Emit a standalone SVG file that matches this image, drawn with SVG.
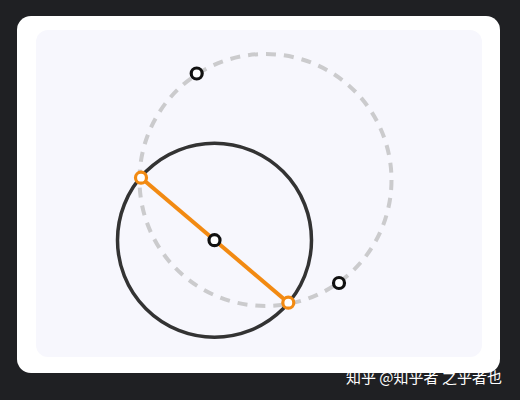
<svg xmlns="http://www.w3.org/2000/svg" width="520" height="400" viewBox="0 0 520 400">
<style>
.ring{fill:#fff;stroke-width:3.2}
.blk{stroke:#111}
.org{stroke:#f28a12}
.wm{font-family:"Noto Sans CJK SC","Liberation Sans",sans-serif;font-size:15px;fill:#fff}
</style>
<rect x="0" y="0" width="520" height="400" fill="#1f2023"/>
<rect x="17" y="16" width="483" height="357" rx="14" fill="#ffffff"/>
<rect x="36" y="30" width="446" height="327" rx="12" fill="#f7f7fd"/>
<g id="connectors">
<circle cx="265.5" cy="180" r="126" fill="none" stroke="#cbcbcd" stroke-width="4" stroke-dasharray="10 8"/>
<circle cx="214.5" cy="240.2" r="97" fill="none" stroke="#333333" stroke-width="3.5"/>
<line x1="141" y1="177.7" x2="288.3" y2="302.7" stroke="#f28a12" stroke-width="4"/>
</g>
<g id="p1"><circle class="ring blk" cx="196.7" cy="73.5" r="5.5"/></g>
<g id="center"><circle class="ring blk" cx="214.5" cy="240.2" r="5.5"/></g>
<g id="p2"><circle class="ring blk" cx="339" cy="283" r="5.5"/></g>
<g id="a"><circle class="ring org" cx="141" cy="177.7" r="5.5"/></g>
<g id="b"><circle class="ring org" cx="288.3" cy="302.7" r="5.5"/></g>
<text class="wm" x="346" y="383">知乎 @知乎者 之乎者也</text>
</svg>
